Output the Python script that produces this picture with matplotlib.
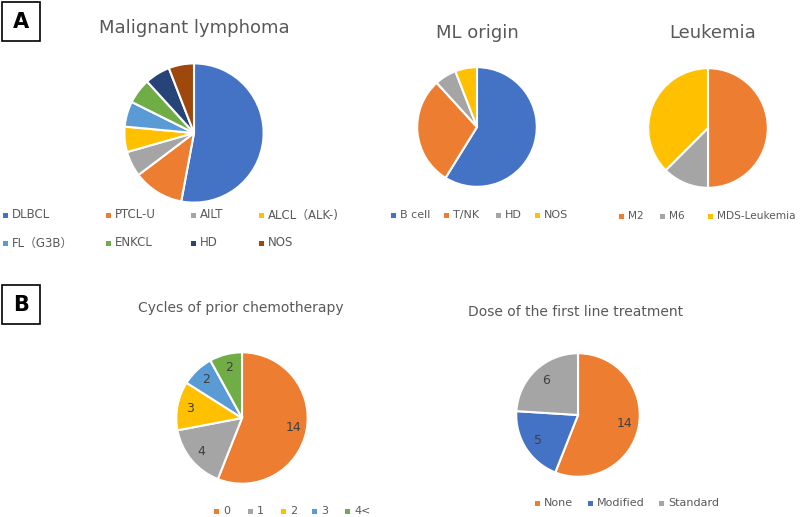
import matplotlib
matplotlib.use("Agg")
import matplotlib.pyplot as plt
from matplotlib.patches import Rectangle

plt.rcParams['font.family'] = ['DejaVu Sans', 'Noto Sans CJK JP']

# Office-style palette
BLUE, ORANGE, GRAY, YELLOW = '#4472C4', '#ED7D31', '#A5A5A5', '#FFC000'
LBLUE, GREEN, DBLUE, BROWN = '#5B9BD5', '#70AD47', '#264478', '#9E480E'
TXT = '#595959'

# ---- data ----
lym_labels = ['DLBCL', 'PTCL-U', 'AILT', 'ALCL（ALK-)', 'FL（G3B）', 'ENKCL', 'HD', 'NOS']
lym_values = [9, 2, 1, 1, 1, 1, 1, 1]
lym_colors = [BLUE, ORANGE, GRAY, YELLOW, LBLUE, GREEN, DBLUE, BROWN]

origin_labels = ['B cell', 'T/NK', 'HD', 'NOS']
origin_values = [10, 5, 1, 1]
origin_colors = [BLUE, ORANGE, GRAY, YELLOW]

leuk_labels = ['M2', 'M6', 'MDS-Leukemia']
leuk_values = [4, 1, 3]
leuk_colors = [ORANGE, GRAY, YELLOW]

cyc_labels = ['0', '1', '2', '3', '4<']
cyc_values = [14, 4, 3, 2, 2]
cyc_colors = [ORANGE, GRAY, YELLOW, LBLUE, GREEN]

dose_labels = ['None', 'Modified', 'Standard']
dose_values = [14, 5, 6]
dose_colors = [ORANGE, BLUE, GRAY]

W, H = 800, 517
fig = plt.figure(figsize=(W / 100, H / 100), dpi=100)

# overlay axes in pixel coordinates for titles / legends / panel tags
ov = fig.add_axes([0, 0, 1, 1])
ov.set_xlim(0, W)
ov.set_ylim(H, 0)
ov.axis('off')


def pie_at(cx, cy, r, values, colors, numbers=False, pctdist=0.8):
    ax = fig.add_axes([(cx - r) / W, 1 - (cy + r) / H, 2 * r / W, 2 * r / H])
    total = sum(values)
    kw = {}
    if numbers:
        kw = dict(autopct=lambda p: '%d' % round(p * total / 100.),
                  pctdistance=pctdist,
                  textprops=dict(color='#404040', fontsize=9))
    ax.pie(values, colors=colors, startangle=90, counterclock=False,
           wedgeprops=dict(edgecolor='white', linewidth=1.5), **kw)
    ax.set_xlim(-1.02, 1.02)
    ax.set_ylim(-1.02, 1.02)
    ax.axis('off')
    return ax


def legend_row(xs, y, labels, colors, fs=8):
    for x, lab, c in zip(xs, labels, colors):
        ov.add_patch(Rectangle((x - 2.5, y - 2.5), 5, 5, color=c, lw=0))
        ov.text(x + 7, y, lab, color=TXT, fontsize=fs, va='center', ha='left')


def tag(y0, letter):
    ov.add_patch(Rectangle((2, y0), 38, 39, fill=False, ec='black', lw=1.2))
    ov.text(21, y0 + 20, letter, fontsize=15, fontweight='bold',
            ha='center', va='center')


# ---- panel A ----
tag(2, 'A')
ov.text(194, 28, 'Malignant lymphoma', fontsize=13, color=TXT, ha='center', va='center')
pie_at(194, 133, 71, lym_values, lym_colors)
legend_row([5, 108, 193, 261], 215, lym_labels[:4], lym_colors[:4], fs=8.5)
legend_row([5, 108, 193, 261], 243, lym_labels[4:], lym_colors[4:], fs=8.5)

ov.text(477, 33, 'ML origin', fontsize=13, color=TXT, ha='center', va='center')
pie_at(477, 127, 61, origin_values, origin_colors)
legend_row([393, 446, 498, 537], 215, origin_labels, origin_colors)

ov.text(713, 33, 'Leukemia', fontsize=13, color=TXT, ha='center', va='center')
pie_at(708, 128, 61, leuk_values, leuk_colors)
legend_row([621, 662, 710], 216, leuk_labels, leuk_colors, fs=7.6)

# ---- panel B ----
tag(285, 'B')
ov.text(241, 308, 'Cycles of prior chemotherapy', fontsize=10, color=TXT,
        ha='center', va='center')
pie_at(242, 418, 67, cyc_values, cyc_colors, numbers=True, pctdist=0.8)
legend_row([216, 250, 283, 314, 347], 511, cyc_labels, cyc_colors)

ov.text(576, 312, 'Dose of the first line treatment', fontsize=10, color=TXT,
        ha='center', va='center')
pie_at(578, 415, 63, dose_values, dose_colors, numbers=True, pctdist=0.76)
legend_row([537, 590, 661], 503, dose_labels, dose_colors)

fig.savefig('out.png', dpi=100)
